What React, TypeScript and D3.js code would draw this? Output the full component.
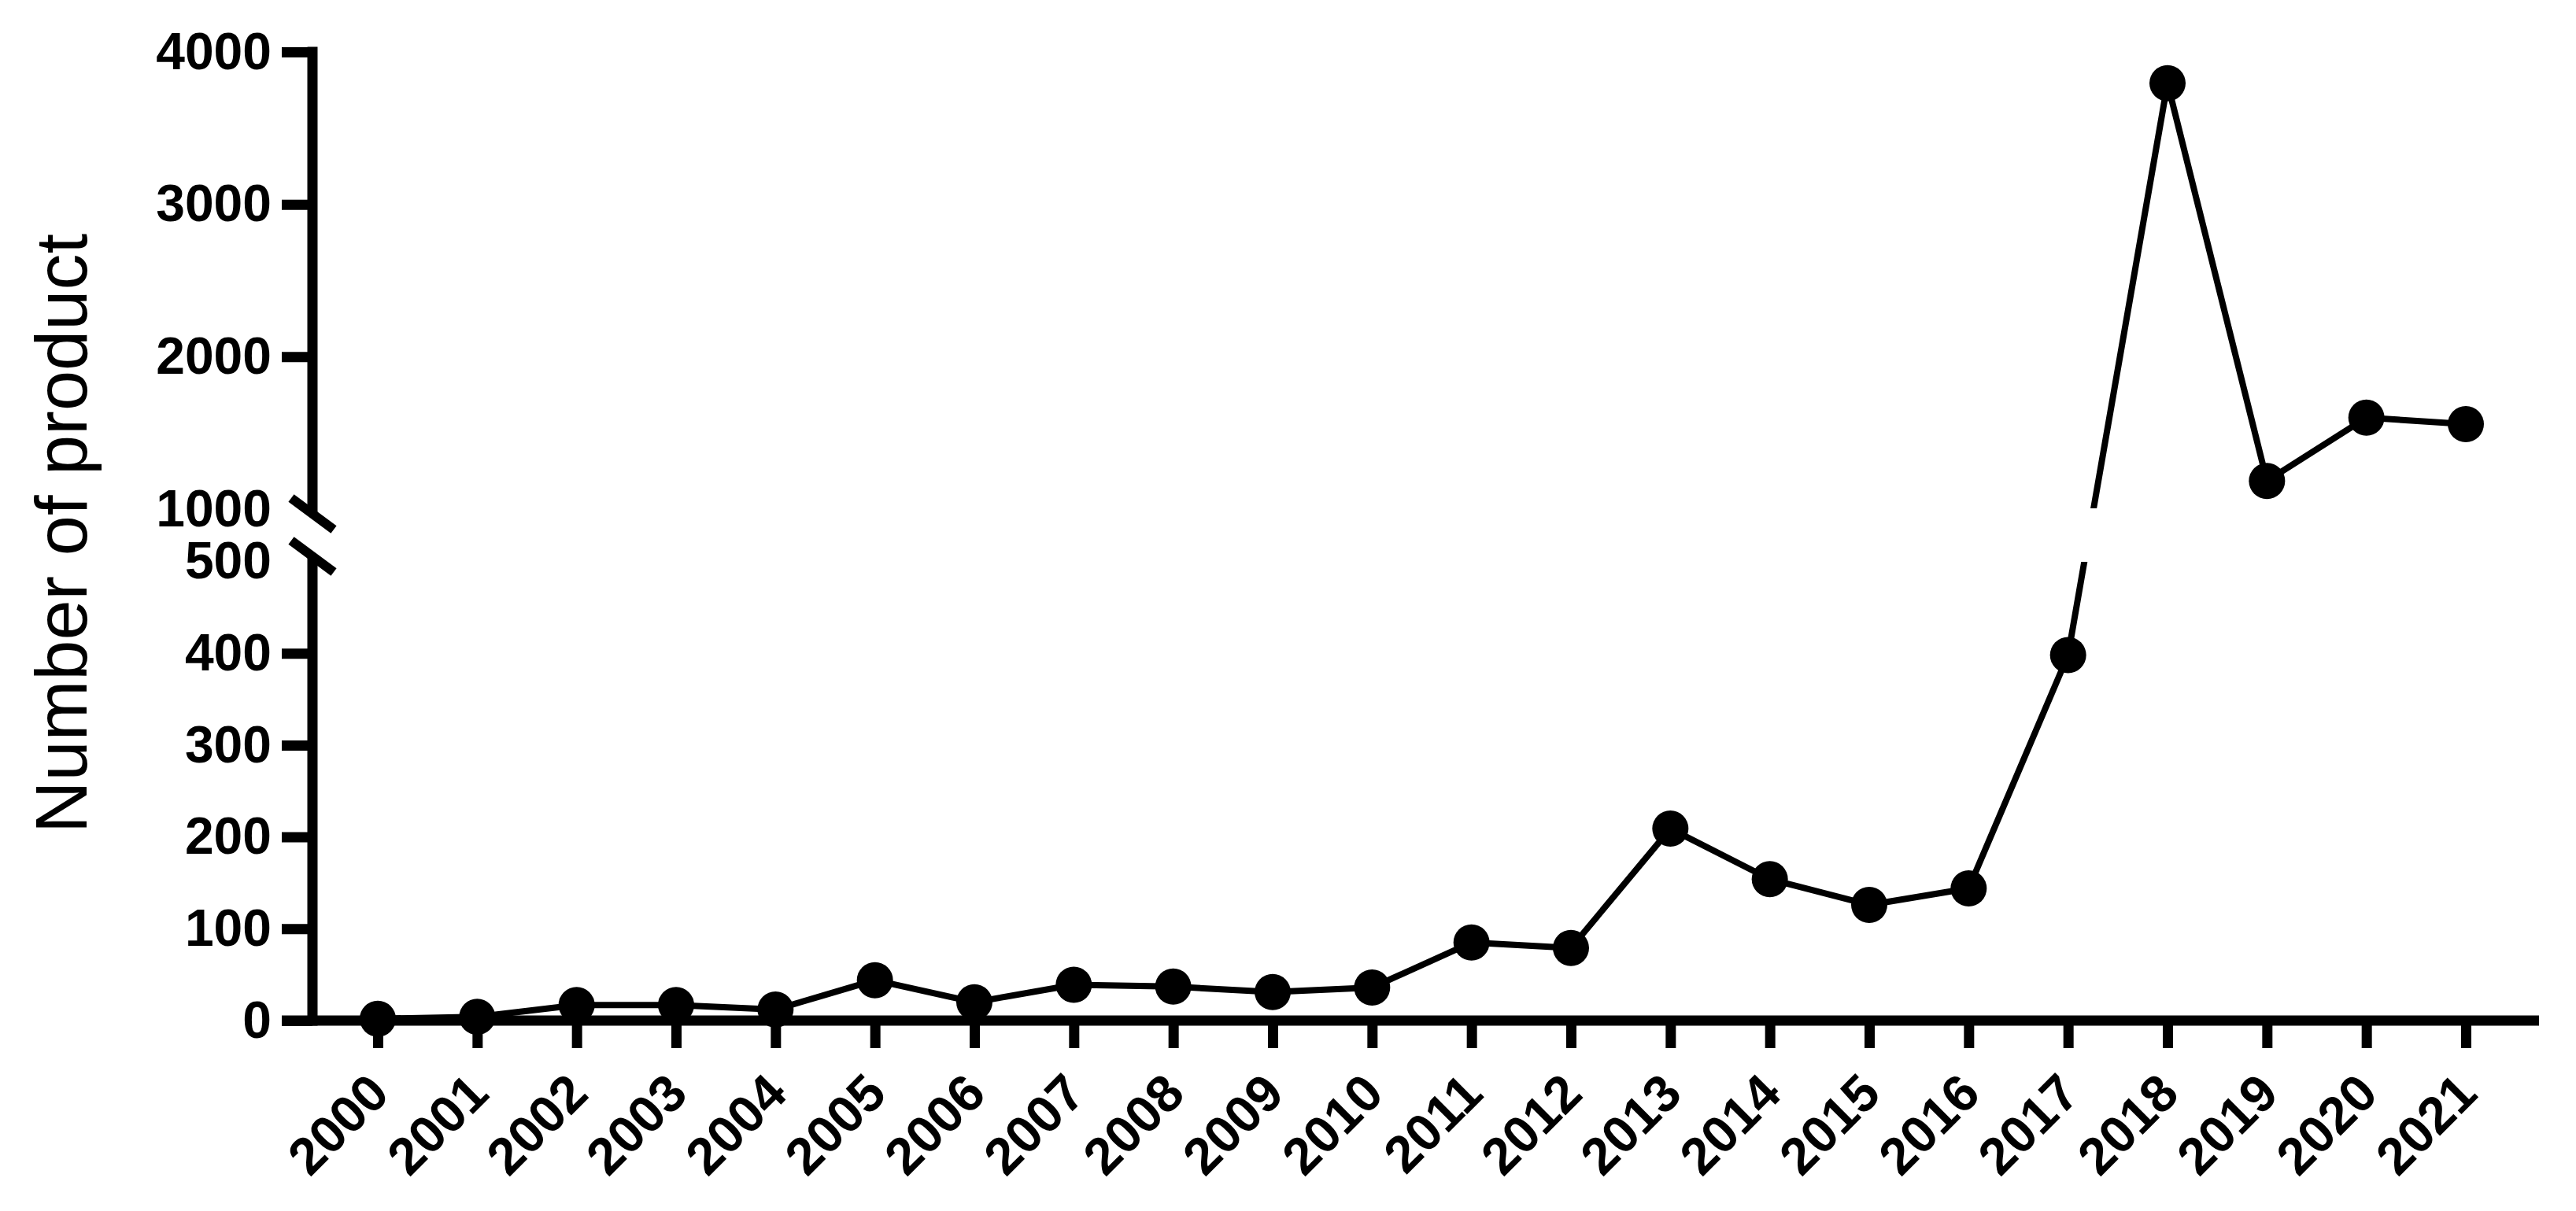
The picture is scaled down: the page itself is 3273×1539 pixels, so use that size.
import React, {Component, createRef} from 'react';
import * as d3 from 'd3';

// years on the x axis
const years = ['2000', '2001', '2002', '2003', '2004', '2005', '2006', '2007', '2008', '2009', '2010',
  '2011', '2012', '2013', '2014', '2015', '2016', '2017', '2018', '2019', '2020', '2021'];
// number of product per year
const products = [2, 4, 17, 17, 12, 44, 20, 39, 37, 31, 36, 85, 79, 209, 154, 126, 144, 398, 3795, 1185, 1600, 1558];
// ticks of the two y segments
const lowTicks = [0, 100, 200, 300, 400, 500];
const highTicks = [1000, 2000, 3000, 4000];

const FONT = '"Liberation Sans", Arial, Helvetica, sans-serif';

class App extends Component {
  container = createRef<SVGSVGElement>();
  w = 3273;
  h = 1539;

  render() {
    return (
      <svg ref={this.container} width={this.w} height={this.h}
           style={{position: 'absolute', left: 0, top: 0, display: 'block', background: '#fff'}}/>
    )
  }

  componentDidMount() {
    const svg = d3.select(this.container.current);
    svg.selectAll('*').remove();
    const width = this.w;
    const height = this.h;

    const axisX = 397;
    const lw = 13;

    // scales: x by year, y split in a low and a high part
    const x = d3.scalePoint<string>().domain(years).range([480, 3133]);
    const yLow = d3.scaleLinear().domain([0, 500]).range([1297, 713.5]);
    const yHigh = d3.scaleLinear().domain([1000, 4000]).range([647, 66]);
    const yPos = (v: number) => (v <= 500 ? yLow(v) : yHigh(v));

    // clip areas so the line leaves a gap at the break
    const defs = svg.append('defs');
    defs.append('clipPath').attr('id', 'clip-high')
      .append('rect').attr('x', 0).attr('y', 0).attr('width', width).attr('height', 646);
    defs.append('clipPath').attr('id', 'clip-low')
      .append('rect').attr('x', 0).attr('y', 714).attr('width', width).attr('height', height - 714);

    // y axis, low part
    const lowG = svg.append('g').attr('transform', `translate(${axisX},0)`)
      .call(d3.axisLeft(yLow).tickValues(lowTicks).tickSize(39).tickPadding(13).tickSizeOuter(0));
    // y axis, high part
    const highG = svg.append('g').attr('transform', `translate(${axisX},0)`)
      .call(d3.axisLeft(yHigh).tickValues(highTicks).tickSize(39).tickPadding(13).tickSizeOuter(0)
        .tickFormat(d3.format('d')));

    [lowG, highG].forEach(g => {
      g.select('.domain').remove();
      g.attr('font-size', 66).attr('font-family', FONT).attr('font-weight', 'bold');
      g.selectAll('.tick line').attr('stroke', '#000').attr('stroke-width', lw);
      g.selectAll('.tick text').attr('fill', '#000');
    });
    // no tick at the break
    lowG.selectAll('.tick').filter((d: any) => d === 500).select('line').remove();
    highG.selectAll('.tick').filter((d: any) => d === 1000).select('line').remove();

    // y axis lines
    svg.append('line')
      .attr('x1', axisX).attr('x2', axisX)
      .attr('y1', yHigh(4000) - lw / 2).attr('y2', 653)
      .attr('stroke', '#000').attr('stroke-width', lw);
    svg.append('line')
      .attr('x1', axisX).attr('x2', axisX)
      .attr('y1', 707).attr('y2', yLow(0) + lw / 2)
      .attr('stroke', '#000').attr('stroke-width', lw);

    // break marks
    [653, 707].forEach(cy => {
      svg.append('line')
        .attr('x1', axisX - 27).attr('y1', cy - 20)
        .attr('x2', axisX + 27).attr('y2', cy + 20)
        .attr('stroke', '#000').attr('stroke-width', 12);
    });

    // x axis
    const xG = svg.append('g').attr('transform', `translate(0,${yLow(0)})`)
      .call(d3.axisBottom(x).tickSize(35).tickSizeOuter(0));
    xG.select('.domain').remove();
    xG.attr('font-size', 66).attr('font-family', FONT).attr('font-weight', 'bold');
    xG.selectAll('.tick line').attr('stroke', '#000').attr('stroke-width', lw);
    xG.selectAll('.tick text')
      .attr('fill', '#000')
      .attr('y', null)
      .attr('dy', null)
      .attr('text-anchor', 'end')
      .attr('transform', 'translate(17,96) rotate(-45)');
    svg.append('line')
      .attr('x1', axisX - 39).attr('x2', 3226)
      .attr('y1', yLow(0)).attr('y2', yLow(0))
      .attr('stroke', '#000').attr('stroke-width', lw);

    // y title
    svg.append('text')
      .attr('transform', `translate(110,678) rotate(-90)`)
      .attr('text-anchor', 'middle')
      .attr('font-family', FONT)
      .attr('font-size', 92)
      .attr('fill', '#000')
      .text('Number of product');

    // the line, drawn twice with the two clips
    const line = d3.line<number>()
      .x((d, i) => x(years[i]) as number)
      .y(d => yPos(d));
    ['clip-high', 'clip-low'].forEach(id => {
      svg.append('path')
        .datum(products)
        .attr('d', line)
        .attr('clip-path', `url(#${id})`)
        .attr('fill', 'none')
        .attr('stroke', '#000')
        .attr('stroke-width', 8)
        .attr('stroke-linejoin', 'round');
    });

    // points
    svg.append('g').selectAll('circle')
      .data(products)
      .enter()
      .append('circle')
      .attr('cx', (d, i) => x(years[i]) as number)
      .attr('cy', d => yPos(d))
      .attr('r', 23)
      .attr('fill', '#000');
  }
}

export default App;
